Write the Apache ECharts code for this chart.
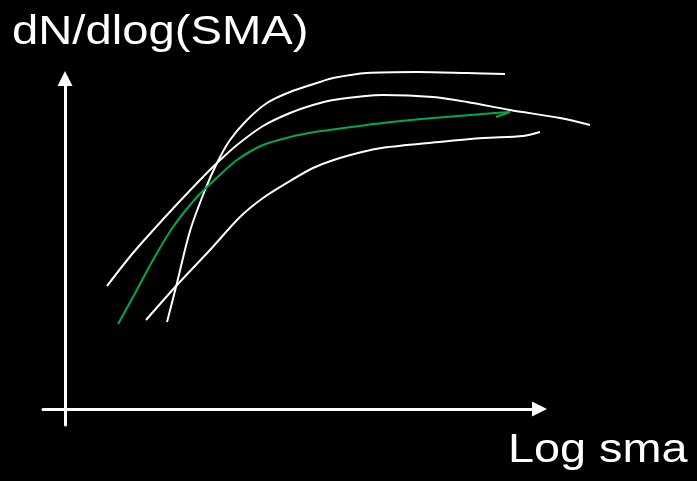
<!DOCTYPE html>
<html>
<head>
<meta charset="utf-8">
<script src="https://cdn.jsdelivr.net/npm/echarts@6/dist/echarts.min.js"></script>
<style>
  html, body { margin: 0; padding: 0; background: #000; }
  #chart { width: 697px; height: 481px; }
</style>
</head>
<body>
<div id="chart"></div>
<script>
// sketch curves (x = log sma, y = dN/dlog(SMA), arbitrary units)
var curveA = [[0.84, 3.075], [1.36, 3.90], [2.04, 4.85], [2.70, 5.725], [3.04, 6.15], [3.44, 6.60],
              [3.96, 7.075], [4.50, 7.40], [4.96, 7.60], [5.36, 7.725], [6.36, 7.85], [7.36, 7.80],
              [8.04, 7.675], [8.90, 7.475], [9.90, 7.275], [10.50, 7.10]];
var curveB = [[2.04, 2.175], [2.24, 3.15], [2.50, 4.45], [2.80, 5.475], [3.04, 6.15], [3.30, 6.725],
              [3.64, 7.225], [4.04, 7.65], [4.50, 7.925], [5.10, 8.175], [5.36, 8.275], [6.04, 8.40],
              [7.04, 8.425], [8.04, 8.40], [8.80, 8.375]];
var curveGreen = [[1.06, 2.125], [1.36, 2.80], [1.76, 3.725], [2.16, 4.55], [2.64, 5.30], [3.02, 5.76],
                  [3.44, 6.225], [3.96, 6.60], [4.50, 6.80], [4.96, 6.92], [5.36, 6.99], [6.36, 7.15],
                  [7.36, 7.275], [8.36, 7.375], [8.90, 7.425]];
var greenBarb = [[8.90, 7.425], [8.62, 7.30]];
var curveC = [[1.62, 2.225], [2.24, 3.10], [2.90, 3.975], [3.50, 4.80], [3.96, 5.275], [4.50, 5.70],
              [4.96, 6.025], [5.36, 6.22], [5.96, 6.43], [6.36, 6.53], [7.36, 6.66], [8.36, 6.775],
              [9.16, 6.825], [9.50, 6.925]];

var yTitle = 'dN/dlog(SMA)';
var xTitle = 'Log sma';

var axisStyle = {
    show: true,
    onZero: true,
    symbol: ['none', 'triangle'],
    symbolSize: [15, 15],
    lineStyle: { color: '#fff', width: 3 }
};
var hidden = { show: false };

function curve(data, color) {
    return {
        type: 'line',
        xAxisIndex: 1,
        yAxisIndex: 1,
        data: data,
        smooth: 0.3,
        showSymbol: false,
        symbol: 'none',
        silent: true,
        lineStyle: { color: color, width: 2 }
    };
}

var option = {
    backgroundColor: '#000',
    animation: false,
    // grid 0 carries the drawn arrows; grid 1 has the same scale (50px / 40px per unit)
    // but is larger, so curves running past the arrow tips are not cut
    grid: [
        { left: 43, right: 157.5, top: 78.5, bottom: 56 },
        { left: 43, right: 97, top: 49, bottom: 56 }
    ],
    xAxis: [
        {
            type: 'value', gridIndex: 0, min: -0.44, max: 9.49,
            axisLine: axisStyle,
            axisTick: hidden, axisLabel: hidden, splitLine: hidden
        },
        { type: 'value', gridIndex: 1, min: -0.44, max: 10.7, show: false }
    ],
    yAxis: [
        {
            type: 'value', gridIndex: 0, min: -0.4, max: 8.2625,
            axisLine: axisStyle,
            axisTick: hidden, axisLabel: hidden, splitLine: hidden
        },
        { type: 'value', gridIndex: 1, min: -0.4, max: 9, show: false }
    ],
    graphic: [
        {   // y title, slightly stretched like the original slide text
            type: 'text', x: 12, y: 13, scaleX: 1.18,
            style: { text: yTitle, x: 0, y: 0, fill: '#fff', font: '40px "Liberation Sans", Arial, sans-serif', verticalAlign: 'top' }
        },
        {
            type: 'text', x: 508, y: 431, scaleX: 1.17,
            style: { text: xTitle, x: 0, y: 0, fill: '#fff', font: '40px "Liberation Sans", Arial, sans-serif', verticalAlign: 'top' }
        }
    ],
    series: [
        curve(curveA, '#fff'),
        curve(curveB, '#fff'),
        curve(curveC, '#fff'),
        curve(curveGreen, '#00a84f'),
        curve(greenBarb, '#00a84f')
    ]
};

var mychart = echarts.init(document.getElementById('chart'));
mychart.setOption(option);
</script>
</body>
</html>
